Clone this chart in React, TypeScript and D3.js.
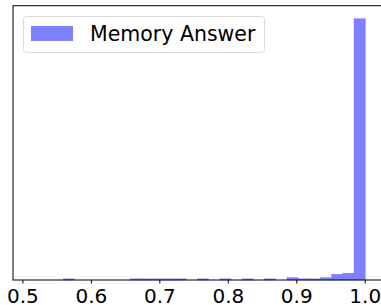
import React from 'react';
import * as d3 from 'd3';

// histogram of "Memory Answer" scores, 30 bins between 0.51 and 1.0
const binStart = 0.51;
const binEnd = 1.0;
const binCount = 30;
const counts = [
  0, 0, 0, 1, 0, 0, 0, 0, 0, 1,
  1, 1, 1, 1, 0, 1, 0, 1, 0, 1,
  0, 1, 0, 2, 1, 1, 2, 5, 6, 230
];
const xTicks = [0.5, 0.6, 0.7, 0.8, 0.9, 1.0];
const legendLabel = 'Memory Answer';

const width = 381;
const height = 305;
const margin = { top: 5.7, left: 13, bottom: 25 };

const font = 'DejaVu Sans, sans-serif';

export default function App() {
  const binW = (binEnd - binStart) / binCount;
  const edges = d3.range(binCount + 1).map(i => binStart + i * binW);
  const pad = (binEnd - binStart) * 0.05;

  const innerBottom = height - margin.bottom;
  const x = d3.scaleLinear()
    .domain([binStart - pad, binEnd + pad])
    .range([margin.left, margin.left + 369]);
  const y = d3.scaleLinear()
    .domain([0, d3.max(counts)! * 1.05])
    .range([innerBottom, margin.top]);

  return (
    <svg width={width} height={height}
      style={{ position: 'absolute', left: 0, top: 0, background: '#fff' }}>
      <g>
        {counts.map((c, i) => c > 0 && (
          <rect key={i}
            x={x(edges[i])}
            y={y(c)}
            width={x(edges[i + 1]) - x(edges[i])}
            height={y(0) - y(c)}
            fill="#8080ff"
            stroke="#6a6af5"
            strokeWidth={0.4} />
        ))}
      </g>
      <rect x={x.range()[0]} y={margin.top}
        width={x.range()[1] - x.range()[0]} height={innerBottom - margin.top}
        fill="none" stroke="#000" strokeWidth={1} />
      <g>
        {xTicks.map(t => (
          <g key={t} transform={`translate(${x(t)},${innerBottom})`}>
            <line y1={0} y2={3.5} stroke="#000" strokeWidth={1} />
            <text y={23} textAnchor="middle" fontFamily={font} fontSize={20} fill="#000">
              {d3.format('.1f')(t)}
            </text>
          </g>
        ))}
      </g>
      <g transform="translate(23.5,16.5)">
        <rect width={241} height={36} rx={3} fill="#fff" fillOpacity={0.8}
          stroke="#d9d9d9" strokeWidth={1} />
        <rect x={7.5} y={9.5} width={42} height={15} fill="#8080ff" />
        <text x={66.5} y={24.5} fontFamily={font} fontSize={20.5} fill="#000">
          {legendLabel}
        </text>
      </g>
    </svg>
  );
}
